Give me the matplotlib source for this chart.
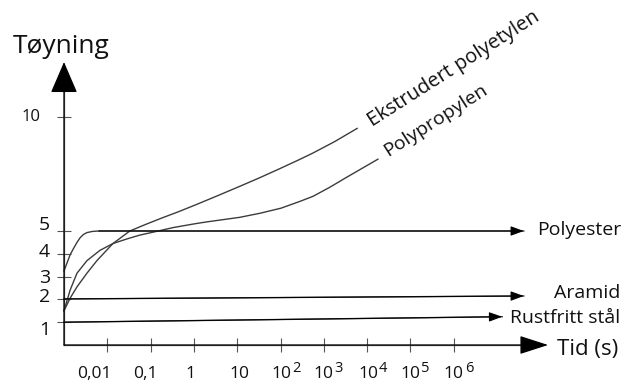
import matplotlib
matplotlib.use("Agg")
import matplotlib.pyplot as plt

plt.rcParams['font.family'] = ['Open Sans', 'DejaVu Sans']

# ---------------- data (log10 of time in s, strain) ----------------
pe_logt = [-3.0, -2.86, -2.70, -2.47, -2.24, -1.87, -1.48, -1.1, -0.74, -0.35, 0.03, 0.55,
           1.06, 1.5, 1.99, 2.4, 2.75, 3.25, 3.77]
pe_strain = [1.5, 2.05, 2.55, 3.15, 3.7, 4.45, 5.0, 5.3, 5.57, 5.85, 6.14, 6.55,
             6.96, 7.32, 7.74, 8.1, 8.42, 8.92, 9.5]

pp_logt = [-3.0, -2.86, -2.70, -2.47, -2.17, -1.87, -1.55, -1.25, -0.94, -0.48, 0.03, 0.3,
           1.06, 1.53, 2.01, 2.45, 2.75, 3.14, 3.54, 4.25]
pp_strain = [1.5, 2.4, 3.15, 3.7, 4.15, 4.45, 4.65, 4.82, 4.95, 5.15, 5.32, 5.4,
             5.6, 5.78, 6.0, 6.3, 6.52, 6.92, 7.37, 8.15]

polyester_logt = [-3.0, -2.86, -2.79, -2.70, -2.63, -2.55, -2.47, -2.35, -2.2, 7.62]
polyester_strain = [3.25, 3.95, 4.2, 4.5, 4.7, 4.85, 4.93, 4.98, 5.0, 5.0]

aramid_logt = [-3.0, 7.62]
aramid_strain = [2.02, 2.15]

steel_logt = [-3.0, 7.12]
steel_strain = [1.0, 1.24]

series_names = ["Ekstrudert polyetylen", "Polypropylen", "Polyester", "Aramid", "Rustfritt stål"]

y_ticks = [1, 2, 3, 4, 5, 10]
y_tick_labels = ["1", "2", "3", "4", "5", "10"]
x_tick_exp = [-2, -1, 0, 1, 2, 3, 4, 5, 6]
x_tick_plain = {-2: "0,01", -1: "0,1", 0: "1", 1: "10"}

y_title = "Tøyning"
x_title = "Tid (s)"

# ---------------- layout ----------------
W, H = 624, 385
PT = 0.72  # points per pixel at dpi 100
fig = plt.figure(figsize=(W / 100, H / 100), dpi=100)
ax = fig.add_axes([64 / W, 40 / H, 496 / W, 305 / H])
ax.set_xscale('log')
XMIN_EXP = -3.0
XMAX_EXP = -3.0 + 496 / 43.3
ax.set_xlim(10 ** XMIN_EXP, 10 ** XMAX_EXP)
ax.set_ylim(0, 305 / 22.8)
for s in ax.spines.values():
    s.set_visible(False)

axis_col = '#555555'
line_col = '#3c3c3c'
text_col = '#111111'

def T(v):
    return [10 ** a for a in v] if isinstance(v, (list, tuple)) else 10 ** v

# axes with arrows
ax.annotate('', xy=(T(XMIN_EXP), 12.41), xytext=(T(XMIN_EXP), 0),
            arrowprops=dict(arrowstyle='-|>,head_length=2.0,head_width=0.86',
                            lw=0.9, color=axis_col, fc='black', ec='black',
                            shrinkA=0, shrinkB=0), annotation_clip=False)
ax.annotate('', xy=(T(8.18), 0), xytext=(T(XMIN_EXP), 0),
            arrowprops=dict(arrowstyle='-|>,head_length=1.8,head_width=0.58',
                            lw=0.9, color=axis_col, fc='black', ec='black',
                            shrinkA=0, shrinkB=0), annotation_clip=False)
ax.plot([T(XMIN_EXP), T(XMIN_EXP)], [0, 11.5], color=axis_col, lw=0.9, clip_on=False)
ax.plot([T(XMIN_EXP), T(7.7)], [0, 0], color=axis_col, lw=0.9, clip_on=False)

# ticks
ax.set_yticks(y_ticks)
ax.set_xticks([10 ** e for e in x_tick_exp])
ax.minorticks_off()
ax.tick_params(direction='inout', length=10.5, width=0.8, color=axis_col,
               labelbottom=False, labelleft=False)

# y tick labels (manual, small nudges in pixels)
y_nudge_px = {1: -8, 2: 2, 3: -1, 4: 2, 5: 6, 10: 0}
for v, lab in zip(y_ticks, y_tick_labels):
    big = v <= 5
    ax.annotate(lab, xy=(T(XMIN_EXP), v),
                xytext=((-14 if big else -23) * PT, y_nudge_px[v] * PT),
                textcoords='offset points', ha='right', va='center',
                fontsize=14 if big else 12, color=text_col, annotation_clip=False)

# x tick labels
x_nudge_px = {-2: -13, -1: -5, 0: -3, 1: 2, 2: 1, 3: 0, 4: 1, 5: 0, 6: 0}
for e in x_tick_exp:
    dx = x_nudge_px[e]
    base = x_tick_plain.get(e, "10")
    ax.annotate(base, xy=(T(e), 0), xytext=(dx * PT, -33 * PT),
                textcoords='offset points', ha='center', va='baseline',
                fontsize=12.5, color=text_col, annotation_clip=False)
    if e not in x_tick_plain:
        ax.annotate(str(e), xy=(T(e), 0), xytext=((dx + 11) * PT, -27 * PT),
                    textcoords='offset points', ha='left', va='baseline',
                    fontsize=10.5, color=text_col, annotation_clip=False)

# series
for xs, ys in [(pe_logt, pe_strain), (pp_logt, pp_strain),
               (polyester_logt, polyester_strain), (aramid_logt, aramid_strain),
               (steel_logt, steel_strain)]:
    ax.plot(T(xs), ys, color=line_col, lw=1.0, clip_on=False, solid_joinstyle='round')

def head(xs, ys):
    ax.annotate('', xy=(T(xs[-1]), ys[-1]), xytext=(T(xs[-2]), ys[-2]),
                arrowprops=dict(arrowstyle='-|>,head_length=0.8,head_width=0.29',
                                lw=0.8, color='black', shrinkA=0, shrinkB=0),
                annotation_clip=False)

head(polyester_logt, polyester_strain)
head(aramid_logt, aramid_strain)
head(steel_logt, steel_strain)

# series labels
ax.text(T(4.11), 9.56, series_names[0], rotation=32.5, rotation_mode='anchor',
        ha='left', va='baseline', fontsize=14.4, color=text_col)
ax.text(T(4.48), 8.25, series_names[1], rotation=32.5, rotation_mode='anchor',
        ha='left', va='baseline', fontsize=14, color=text_col)
ax.text(T(7.92), 4.82, series_names[2], ha='left', va='baseline', fontsize=14,
        color=text_col, clip_on=False)
ax.text(T(9.84), 2.06, series_names[3], ha='right', va='baseline', fontsize=14,
        color=text_col, clip_on=False)
ax.text(T(9.84), 0.965, series_names[4], ha='right', va='baseline', fontsize=14,
        color=text_col, clip_on=False)

# axis titles
ax.text(T(8.39), -0.44, x_title, ha='left', va='baseline', fontsize=16,
        color=text_col, clip_on=False)
ax.text(T(-4.18), 12.8, y_title, ha='left', va='baseline', fontsize=19,
        color=text_col, clip_on=False)

fig.savefig("out.png", dpi=100)
